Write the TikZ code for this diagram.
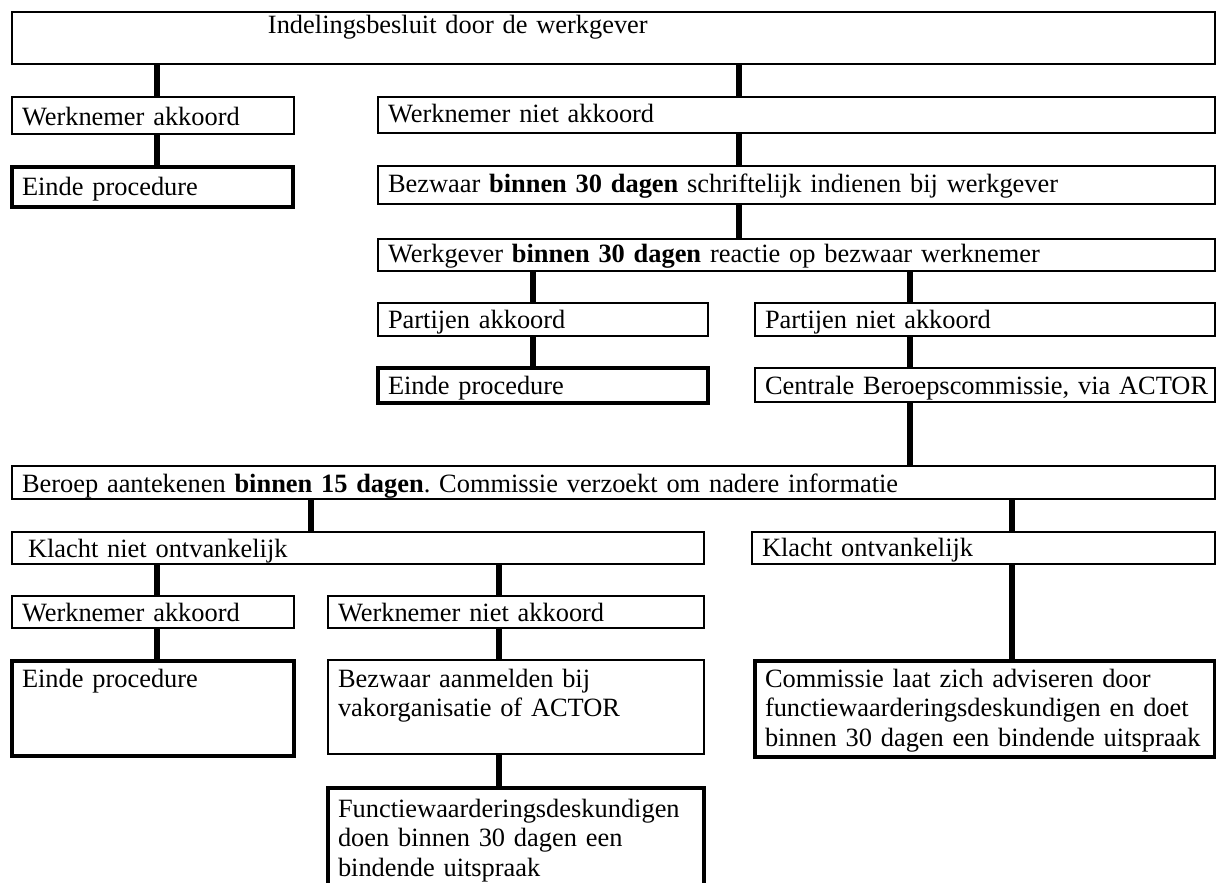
\documentclass[tikz,border=0pt]{standalone}
\usepackage{fontspec}
\setmainfont{Liberation Serif}
\frenchspacing
\tikzset{
  box/.style={draw, line width=0.6pt, rectangle, anchor=north west, align=left,
    inner xsep=5pt, inner ysep=0pt, outer sep=0pt,
    font=\fontsize{13.2}{14.75}\selectfont},
  endbox/.style={box, line width=1.7pt},
  link/.style={line width=2.7pt}
}
\begin{document}
\begin{tikzpicture}[x=0.5pt,y=-0.5pt]
    \useasboundingbox (0,0) rectangle (1216,883);
    % columns of the connectors
    \coordinate (cA) at (157,0);
    \coordinate (cB) at (739,0);
    \coordinate (cC) at (533,0);
    \coordinate (cD) at (910,0);
    \coordinate (cE) at (311,0);
    \coordinate (cF) at (1012,0);
    \coordinate (cG) at (499,0);
    % first decision
    \node[box, text width=591.5pt, text height=11pt, text depth=15pt] (besluit) at (12,12)
        {\hspace*{123pt}Indelingsbesluit door de werkgever};
    \node[box, text width=131pt, text height=14.5pt, text depth=4pt] (akk1) at (12,97) {Werknemer akkoord};
    \node[endbox, text width=130.5pt, text height=14pt, text depth=6pt] (einde1) at (12,167) {Einde procedure};
    \node[box, text width=408.5pt, text height=13pt, text depth=5pt] (nietakk1) at (378,97) {Werknemer niet akkoord};
    \node[box, text width=408.5pt, text height=13pt, text depth=6pt] (bezwaar1) at (378,166)
        {Bezwaar \textbf{binnen 30 dagen} schriftelijk indienen bij werkgever};
    \node[box, text width=408.5pt, text height=12pt, text depth=4pt] (reactie) at (378,239)
        {Werkgever \textbf{binnen 30 dagen} reactie op bezwaar werknemer};
    % second decision
    \node[box, text width=155pt, text height=12.5pt, text depth=4pt] (partakk) at (378,303) {Partijen akkoord};
    \node[box, text width=220pt, text height=12.5pt, text depth=4pt] (partniet) at (755,303) {Partijen niet akkoord};
    \node[endbox, text width=155pt, text height=13pt, text depth=4.5pt] (einde2) at (378,368) {Einde procedure};
    \node[box, text width=220pt, text height=13pt, text depth=4pt] (centraal) at (755,368)
        {\mbox{Centrale Beroepscommissie, via ACTOR}};
    % appeal
    \node[box, text width=591.5pt, text height=13pt, text depth=3.5pt] (beroep) at (12,466)
        {Beroep aantekenen \textbf{binnen 15 dagen}. Commissie verzoekt om nadere informatie};
    \node[box, text width=336pt, text height=12.5pt, text depth=3.5pt] (nietontv) at (12,532)
        {\hspace*{3pt}Klacht niet ontvankelijk};
    \node[box, text width=221.5pt, text height=12pt, text depth=4pt] (ontv) at (752,532) {Klacht ontvankelijk};
    \node[box, text width=131pt, text height=12.5pt, text depth=3.5pt] (akk2) at (12,596) {Werknemer akkoord};
    \node[box, text width=178pt, text height=12.5pt, text depth=3.5pt] (nietakk2) at (328,596) {Werknemer niet akkoord};
    \node[endbox, text width=131pt, text height=13pt, text depth=34.5pt] (einde3) at (12,661) {Einde procedure};
    \node[box, text width=178pt, text height=13.5pt, text depth=33.5pt] (aanmeld) at (328,660)
        {Bezwaar aanmelden bij\\vakorganisatie of ACTOR};
    \node[endbox, text width=178pt, text height=14.5pt, text depth=41.5pt] (deskundig) at (328,788)
        {Functiewaarderingsdeskundigen\\doen binnen 30 dagen een\\bindende uitspraak};
    \node[endbox, text width=220pt, text height=13pt, text depth=35pt] (advies) at (755,661)
        {Commissie laat zich adviseren door\\functiewaarderingsdeskundigen en doet\\binnen 30 dagen een bindende uitspraak};
    % connectors
    \draw[link] (besluit.south -| cA) -- (akk1.north -| cA);
    \draw[link] (akk1.south -| cA) -- (einde1.north -| cA);
    \draw[link] (besluit.south -| cB) -- (nietakk1.north -| cB);
    \draw[link] (nietakk1.south -| cB) -- (bezwaar1.north -| cB);
    \draw[link] (bezwaar1.south -| cB) -- (reactie.north -| cB);
    \draw[link] (reactie.south -| cC) -- (partakk.north -| cC);
    \draw[link] (reactie.south -| cD) -- (partniet.north -| cD);
    \draw[link] (partakk.south -| cC) -- (einde2.north -| cC);
    \draw[link] (partniet.south -| cD) -- (centraal.north -| cD);
    \draw[link] (centraal.south -| cD) -- (beroep.north -| cD);
    \draw[link] (beroep.south -| cE) -- (nietontv.north -| cE);
    \draw[link] (beroep.south -| cF) -- (ontv.north -| cF);
    \draw[link] (nietontv.south -| cA) -- (akk2.north -| cA);
    \draw[link] (nietontv.south -| cG) -- (nietakk2.north -| cG);
    \draw[link] (ontv.south -| cF) -- (advies.north -| cF);
    \draw[link] (akk2.south -| cA) -- (einde3.north -| cA);
    \draw[link] (nietakk2.south -| cG) -- (aanmeld.north -| cG);
    \draw[link] (aanmeld.south -| cG) -- (deskundig.north -| cG);
\end{tikzpicture}
\end{document}
